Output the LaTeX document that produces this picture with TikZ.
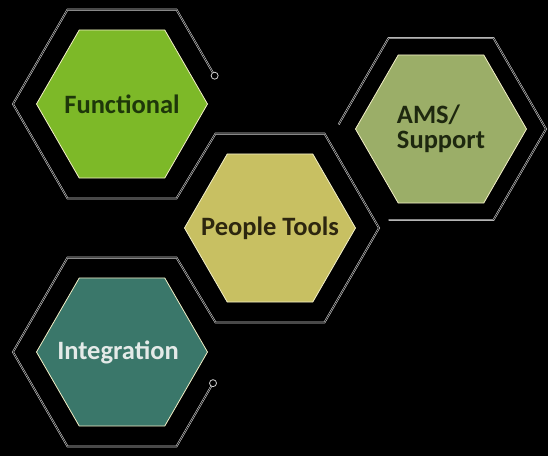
\documentclass[tikz,border=0pt]{standalone}
\usepackage{fontspec}
\setmainfont{Carlito}
\usetikzlibrary{calc}
\definecolor{hfun}{HTML}{7DB928}
\definecolor{hpeo}{HTML}{C8C062}
\definecolor{hams}{HTML}{9BAE68}
\definecolor{hint}{HTML}{3A776A}
\definecolor{tfun}{HTML}{1E370A}
\definecolor{tpeo}{HTML}{2D260F}
\definecolor{tams}{HTML}{1E280F}
\definecolor{tint}{HTML}{E4EAE8}
\definecolor{hedge}{HTML}{F4F0C8}
\definecolor{hline}{HTML}{D0D0D0}
\begin{document}
\begin{tikzpicture}[x=1pt,y=1pt,
hexfill/.style={draw=hedge,line width=0.8pt},
hextext/.style={inner sep=0pt,font=\fontsize{26.5}{24.5}\selectfont\bfseries,align=left},
hexline/.style={draw=hline,line width=0.6pt,double=black,double distance=0.6pt},
hexdot/.style={circle,fill=black,draw=hline,line width=0.8pt,inner sep=0pt,minimum size=7pt}]
\pgfmathsetmacro{\hR}{109}
\pgfmathsetmacro{\hRa}{105}
\pgfmathsetmacro{\hr}{85.5}
\fill[black](0,0)rectangle(548,-456);
\useasboundingbox(0,0)rectangle(548,-456);
\foreach \hn/\hx/\hy/\hRo in {F/122/104/\hR,P/270/228/\hR,A/441/129/\hRa,I/122/352/\hR}{
\coordinate(\hn) at (\hx,-\hy);
\foreach \k in {1,...,6}{
\coordinate(\hn\k) at ($(\hn)+({(\k-1)*60}:\hRo)$);
\coordinate(\hn i\k) at ($(\hn)+({(\k-1)*60}:\hr)$);}}
\coordinate(Fd) at ($(F1)!0.3!(F2)$);
\coordinate(Id) at ($(I1)!0.33!(I6)$);
\draw[hexline](Fd)--(F2)--(F3)--(F4)--(F5)--(F6)--(P3)--(P2)--(P1)--(P6)--(P5)--(I2)--(I3)--(I4)--(I5)--(I6)--(Id);
\draw[hexline]($(A4)!0.05!(A3)$)--(A3)--(A2)--(A1)--(A6)--(A5);
\foreach \hn/\hc in {F/hfun,P/hpeo,A/hams,I/hint}{
\filldraw[hexfill,fill=\hc](\hn i1)--(\hn i2)--(\hn i3)--(\hn i4)--(\hn i5)--(\hn i6)--cycle;}
\node[hextext,text=tfun](tF) at (F){Functional};
\node[hextext,text=tpeo](tP) at (P){People Tools};
\node[hextext,text=tams](tA) at (A){AMS/\\Support};
\node[hextext,text=tint](tI) at ($(I)+(-4,0)$){Integration};
\node[hexdot](dF) at (Fd){};
\node[hexdot](dI) at (Id){};
\end{tikzpicture}
\end{document}
